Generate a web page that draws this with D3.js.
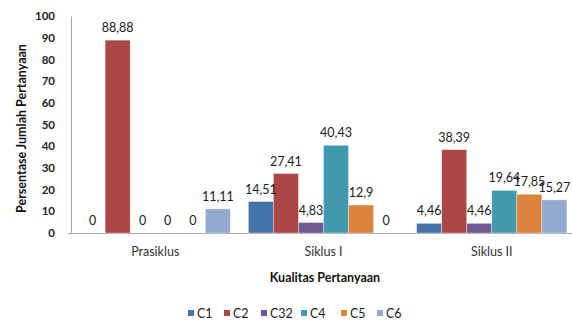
<!DOCTYPE html>
<html>
<head>
<meta charset="utf-8">
<script src="https://cdn.jsdelivr.net/npm/d3@7"></script>
<style>
  html, body { margin: 0; padding: 0; background: #fff; }
  svg { display: block; }
  text { font-family: Lato, "Open Sans", sans-serif; }
</style>
</head>
<body>
<svg id="chart" width="572" height="322"></svg>
<script>
// Question quality per cycle (percent of all questions)
const categories = ["Prasiklus", "Siklus I", "Siklus II"];
const seriesNames = ["C1", "C2", "C32", "C4", "C5", "C6"];
const C1 = [0, 14.51, 4.46];
const C2 = [88.88, 27.41, 38.39];
const C32 = [0, 4.83, 4.46];
const C4 = [0, 40.43, 19.64];
const C5 = [0, 12.9, 17.85];
const C6 = [11.11, 0, 15.27];
const seriesValues = [C1, C2, C32, C4, C5, C6];
const valueLabels = [
  ["0", "14,51", "4,46"],
  ["88,88", "27,41", "38,39"],
  ["0", "4,83", "4,46"],
  ["0", "40,43", "19,64"],
  ["0", "12,9", "17,85"],
  ["11,11", "0", "15,27"]
];
const yTicks = [0, 10, 20, 30, 40, 50, 60, 70, 80, 90, 100];
const colors = ["#4572A7", "#AA4643", "#71588F", "#4198AF", "#DB843D", "#93A9CF"];

const svg = d3.select("#chart");
const plot = { left: 71, right: 576, top: 16, bottom: 233 };

const x0 = d3.scaleBand().domain(categories).range([plot.left, plot.right]).paddingInner(0.107).paddingOuter(0.054);
const x1 = d3.scaleBand().domain(seriesNames).range([0, x0.bandwidth()]).padding(0);
const y = d3.scaleLinear().domain([0, 100]).range([plot.bottom, plot.top]);

// y tick labels
const yAxis = d3.axisLeft(y).tickValues(yTicks).tickSize(0).tickPadding(16).tickFormat(d3.format("d"));
const gy = svg.append("g").attr("transform", `translate(${plot.left},0)`).call(yAxis);
gy.select(".domain").attr("stroke", "#a6a6a6").attr("stroke-width", 1);
gy.selectAll("text").attr("fill", "#222").style("font-size", "11.5px").style("font-weight", "bold")
  .style("font-family", "Lato, sans-serif");

// x axis
const xAxis = d3.axisBottom(x0).tickSize(0).tickPadding(14);
const gx = svg.append("g").attr("transform", `translate(0,${plot.bottom})`).call(xAxis);
gx.select(".domain").attr("stroke", "#a6a6a6").attr("stroke-width", 1).attr("d", `M${plot.left - 3},0.5H${plot.right}`);
gx.selectAll("text").attr("fill", "#333").style("font-size", "12.5px").style("font-family", "Lato, sans-serif");

// bars
const groups = svg.append("g").selectAll("g")
  .data(categories)
  .join("g")
  .attr("transform", d => `translate(${x0(d)},0)`);

const cells = (c, ci) => seriesNames.map((s, si) => ({ s, si, v: seriesValues[si][ci], label: valueLabels[si][ci] }));

groups.selectAll("rect")
  .data(cells)
  .join("rect")
  .attr("x", d => x1(d.s))
  .attr("y", d => y(d.v))
  .attr("width", x1.bandwidth())
  .attr("height", d => y(0) - y(d.v))
  .attr("fill", d => colors[d.si])
  .attr("stroke", "#ffffff")
  .attr("stroke-opacity", 0.6)
  .attr("stroke-width", 0.6);

groups.selectAll("text.val")
  .data(cells)
  .join("text")
  .attr("class", "val")
  .attr("x", d => x1(d.s) + x1.bandwidth() / 2)
  .attr("y", d => y(d.v) - 8)
  .attr("text-anchor", "middle")
  .attr("fill", "#1a1a1a")
  .style("font-size", "12.5px")
  .text(d => d.label);

// axis titles
svg.append("text")
  .attr("transform", `translate(26,${(plot.top + plot.bottom) / 2 + 4}) rotate(-90)`)
  .attr("text-anchor", "middle")
  .attr("fill", "#111")
  .style("font-size", "12.5px")
  .style("font-weight", "bold")
  .text("Persentase Jumlah Pertanyaan");

svg.append("text")
  .attr("x", 325)
  .attr("y", 282)
  .attr("text-anchor", "middle")
  .attr("fill", "#111")
  .style("font-size", "12.5px")
  .style("font-weight", "bold")
  .text("Kualitas Pertanyaan");

// legend
const legendX = [188, 224, 261, 301, 341, 377];
const legend = svg.append("g").selectAll("g")
  .data(seriesNames)
  .join("g")
  .attr("transform", (d, i) => `translate(${legendX[i]},313)`);
legend.append("rect").attr("x", 0).attr("y", -3).attr("width", 6).attr("height", 6).attr("fill", (d, i) => colors[i]);
legend.append("text").attr("x", 9).attr("y", 4.5).attr("fill", "#222").style("font-size", "12.5px").text(d => d);
</script>
</body>
</html>
